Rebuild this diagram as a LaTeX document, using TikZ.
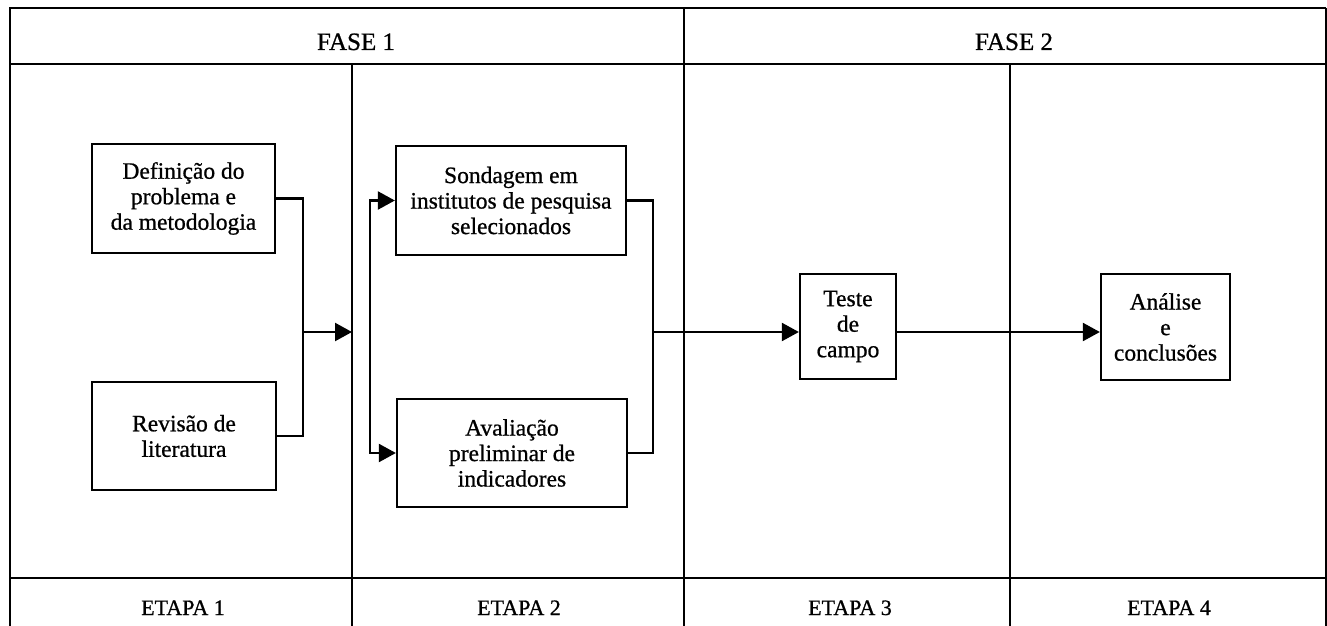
\documentclass[tikz,border=0pt]{standalone}
\usepackage{fontspec}
\setmainfont{Liberation Serif}[FakeBold=0.8]
\usetikzlibrary{arrows.meta}
\begin{document}
\begin{tikzpicture}[x=1pt,y=-1pt,
  frame/.style={line width=2.3pt},
  thin frame/.style={line width=1.2pt},
  procbox/.style={draw,line width=2.3pt,align=center,inner sep=0pt,
    font=\fontsize{23.5}{25.5}\selectfont},
  lab/.style={font=\fontsize{22}{25}\selectfont,anchor=base},
  head/.style={font=\fontsize{25}{28}\selectfont,anchor=base},
  conn/.style={line width=2.3pt},
  arr/.style={line width=2.3pt,-{Triangle[length=17pt,width=18pt]}}]
\useasboundingbox (0,0) rectangle (1327,626);
% grid coordinates
\coordinate (tl) at (10,8);
\coordinate (tr) at (1326,8);
\coordinate (bl) at (10,626);
\coordinate (br) at (1326,626);
% outer frame and rows
\draw[frame] (bl) -- (tl) -- (tr);
\draw[thin frame] (tr) -- (br);
\draw[frame] (10,64) -- (1326,64);
\draw[frame] (10,578) -- (1326,578);
% column dividers
\coordinate (d12) at (352,332);
\draw[frame] (352,64) -- (352,626);
\draw[frame] (684,8) -- (684,626);
\draw[frame] (1010,64) -- (1010,626);
% header and footer labels
\node[head] (f1) at (356,50) {FASE 1};
\node[head] (f2) at (1014,50) {FASE 2};
\node[lab] (e1) at (183,615) {ETAPA 1};
\node[lab] (e2) at (519,615) {ETAPA 2};
\node[lab] (e3) at (850,615) {ETAPA 3};
\node[lab] (e4) at (1169,615) {ETAPA 4};
% boxes
\node[procbox,minimum width=183pt,minimum height=109pt] (def) at (183.5,198.5)
  {Definição do\\problema e\\da metodologia};
\node[procbox,minimum width=184pt,minimum height=108pt] (rev) at (184,436)
  {Revisão de\\literatura};
\node[procbox,minimum width=230pt,minimum height=109pt] (son) at (511,200.5)
  {Sondagem em\\institutos de pesquisa\\selecionados};
\node[procbox,minimum width=230pt,minimum height=108pt] (ava) at (512,453)
  {Avaliação\\preliminar de\\indicadores};
\node[procbox,minimum width=96pt,minimum height=105pt] (tes) at (848,326.5)
  {Teste\\de\\campo};
\node[procbox,minimum width=129pt,minimum height=106pt] (ana) at (1165.5,327)
  {Análise\\e\\conclusões};
% connectors
\coordinate (j1) at (303,332);
\coordinate (fd) at (370,332);
\coordinate (j2) at (653,332);
\draw[conn] (def.east) -| (j1);
\draw[conn] (rev.east) -| (j1);
\draw[arr] (j1) -- (d12);
\draw[arr] (fd) |- (son.west);
\draw[arr] (fd) |- (ava.west);
\draw[conn] (son.east) -| (j2);
\draw[conn] (ava.east) -| (j2);
\draw[arr] (j2) -- (tes.west |- j2);
\draw[arr] (tes.east |- j2) -- (ana.west |- j2);
\end{tikzpicture}
\end{document}
